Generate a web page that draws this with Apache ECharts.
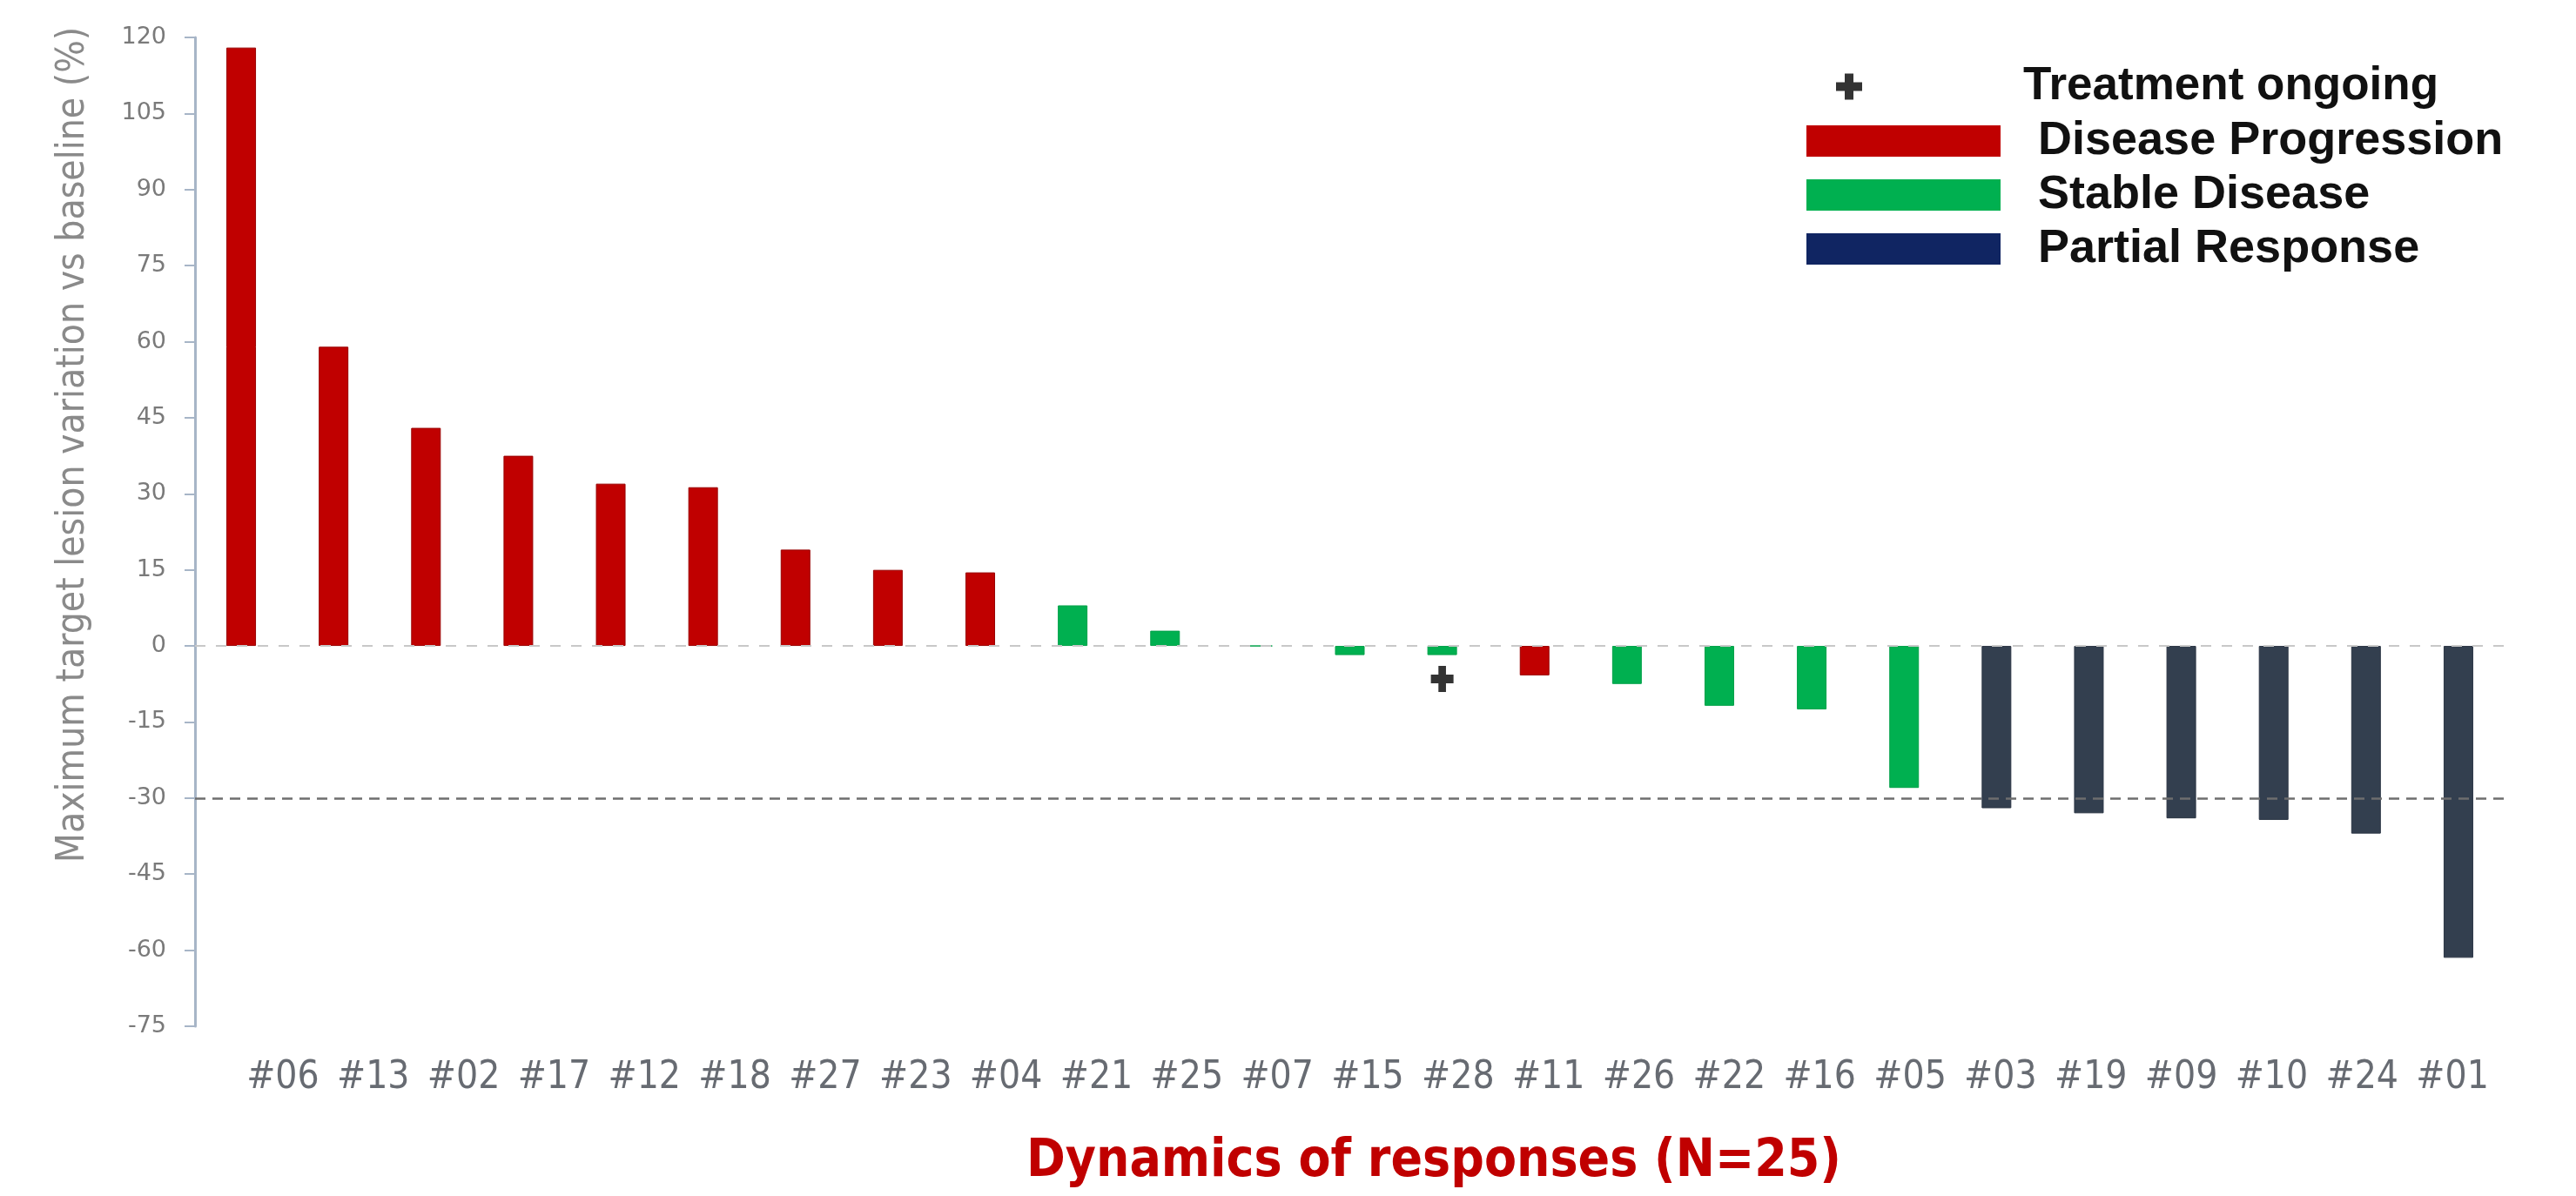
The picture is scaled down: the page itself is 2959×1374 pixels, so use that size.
<!DOCTYPE html>
<html>
<head>
<meta charset="utf-8">
<script src="https://cdn.jsdelivr.net/npm/echarts@6/dist/echarts.min.js"></script>
<style>
html,body{margin:0;padding:0;background:#fff;}
#chart{width:2959px;height:1374px;}
</style>
</head>
<body>
<div id="chart"></div>
<script>
// ---- data ----
const patients = ['#06','#13','#02','#17','#12','#18','#27','#23','#04','#21','#25','#07','#15','#28','#11','#26','#22','#16','#05','#03','#19','#09','#10','#24','#01'];
const values   = [118, 59, 43, 37.5, 32, 31.3, 19, 15, 14.5, 8, 3, 0, -1.8, -1.8, -5.8, -7.5, -11.8, -12.5, -28, -32, -33, -34, -34.3, -37, -61.5];
const response = ['PD','PD','PD','PD','PD','PD','PD','PD','PD','SD','SD','SD','SD','SD','PD','SD','SD','SD','SD','PR','PR','PR','PR','PR','PR'];
const ongoingPatients = ['#28'];
const ongoingMarkY = [-6.5];
const thresholds = [0, -30];
const yTicks = {min: -75, max: 120, interval: 15};
const classNames = {PD: 'Disease Progression', SD: 'Stable Disease', PR: 'Partial Response'};
const chartTitle = 'Dynamics of responses (N=25)';
const yAxisTitle = 'Maximum target lesion variation vs baseline (%)';
const ongoingName = 'Treatment ongoing';

// ---- styles ----
const barColors = {PD: '#C00000', SD: '#00B050', PR: '#333F4F'};
const barBorders = {PD: '#990000', SD: '#00A048', PR: '#2B3544'};
const legendColors = {PD: '#C00000', SD: '#00B050', PR: '#102562'};
const crossPath = 'path://M10,0H20V10H30V20H20V30H10V20H0V10H10Z';
const narrow = "'Liberation Sans Narrow','DejaVu Sans Condensed','Liberation Sans',sans-serif";

function seriesFor(cls) {
  return values.map((v, i) => response[i] === cls ? v : '-');
}

const barSeries = ['PD','SD','PR'].map((cls, k) => ({
  name: classNames[cls],
  type: 'bar',
  xAxisIndex: 0, yAxisIndex: 0,
  data: seriesFor(cls),
  barWidth: 34,
  barGap: '-100%',
  itemStyle: {color: barColors[cls], borderColor: barBorders[cls], borderWidth: 1},
  z: 3,
  markLine: k === 0 ? {
    silent: true,
    symbol: 'none',
    label: {show: false},
    data: [
      {yAxis: thresholds[0], lineStyle: {color: '#C8C8C8', type: [12, 12], width: 2}},
      {yAxis: thresholds[1], lineStyle: {color: '#6E6E6E', type: [12, 8], width: 2.5}}
    ]
  } : undefined
}));

const ongoingSeries = {
  name: ongoingName,
  type: 'scatter',
  xAxisIndex: 0, yAxisIndex: 0,
  data: ongoingPatients.map((p, i) => [p, ongoingMarkY[i]]),
  symbol: crossPath,
  symbolSize: [26, 30],
  itemStyle: {color: '#000'},
  z: 5
};

const chart = echarts.init(document.getElementById('chart'), null, {renderer: 'canvas'});
chart.setOption({
  backgroundColor: '#fff',
  animation: false,
  title: {
    text: chartTitle,
    left: 1174, top: 1300,
    textStyle: {color: '#C00000', fontSize: 60, fontWeight: 'bold', fontFamily: narrow}
  },
  grid: [
    {left: 224, right: 82, top: 43, bottom: 195, outerBoundsMode: 'none', containLabel: false},
    {left: 273, right: 90, top: 43, bottom: 195, outerBoundsMode: 'none', containLabel: false}
  ],
  legend: [
    {
      orient: 'vertical', left: 2104, top: 68,
      itemWidth: 30, itemHeight: 30,
      data: [{name: ongoingName, icon: crossPath, itemStyle: {color: '#000'}}],
      textStyle: {fontSize: 53, fontWeight: 'bold', color: '#111', fontFamily: "'Liberation Sans',Arial,sans-serif", padding: [0,0,0,180]}
    },
    {
      orient: 'vertical', left: 2070, top: 130,
      itemWidth: 223, itemHeight: 36, itemGap: 8,
      data: ['PD','SD','PR'].map(c => ({name: classNames[c], icon: 'rect', itemStyle: {color: legendColors[c], borderWidth: 0}})),
      textStyle: {fontSize: 54, fontWeight: 'bold', color: '#111', fontFamily: "'Liberation Sans',Arial,sans-serif", padding: [0,0,0,38]}
    }
  ],
  xAxis: [
    {
      type: 'category', gridIndex: 0, data: patients,
      axisLine: {show: false}, axisTick: {show: false}, axisLabel: {show: false}, splitLine: {show: false}
    },
    {
      type: 'category', gridIndex: 1, data: patients,
      axisLine: {show: false}, axisTick: {show: false}, splitLine: {show: false},
      axisLabel: {show: true, interval: 0, margin: 38, fontSize: 44, color: '#676b72', fontFamily: narrow}
    }
  ],
  yAxis: [
    {
      type: 'value', gridIndex: 0,
      min: yTicks.min, max: yTicks.max, interval: yTicks.interval,
      name: yAxisTitle,
      nameLocation: 'middle', nameGap: 117, nameRotate: 90,
      nameTextStyle: {fontSize: 44, color: '#8a8a8a', fontFamily: narrow, padding: [0,0,0,200]},
      axisLine: {show: true, onZero: false, lineStyle: {color: '#A7B5C7', width: 3}},
      axisTick: {show: true, length: 12, lineStyle: {color: '#A7B5C7', width: 2}},
      axisLabel: {margin: 33, fontSize: 27, color: '#7a7a7a', fontFamily: "'DejaVu Sans',sans-serif"},
      splitLine: {show: false}
    },
    {
      type: 'value', gridIndex: 1, min: yTicks.min, max: yTicks.max, interval: yTicks.interval,
      show: false
    }
  ],
  series: [...barSeries, ongoingSeries]
});
</script>
</body>
</html>
